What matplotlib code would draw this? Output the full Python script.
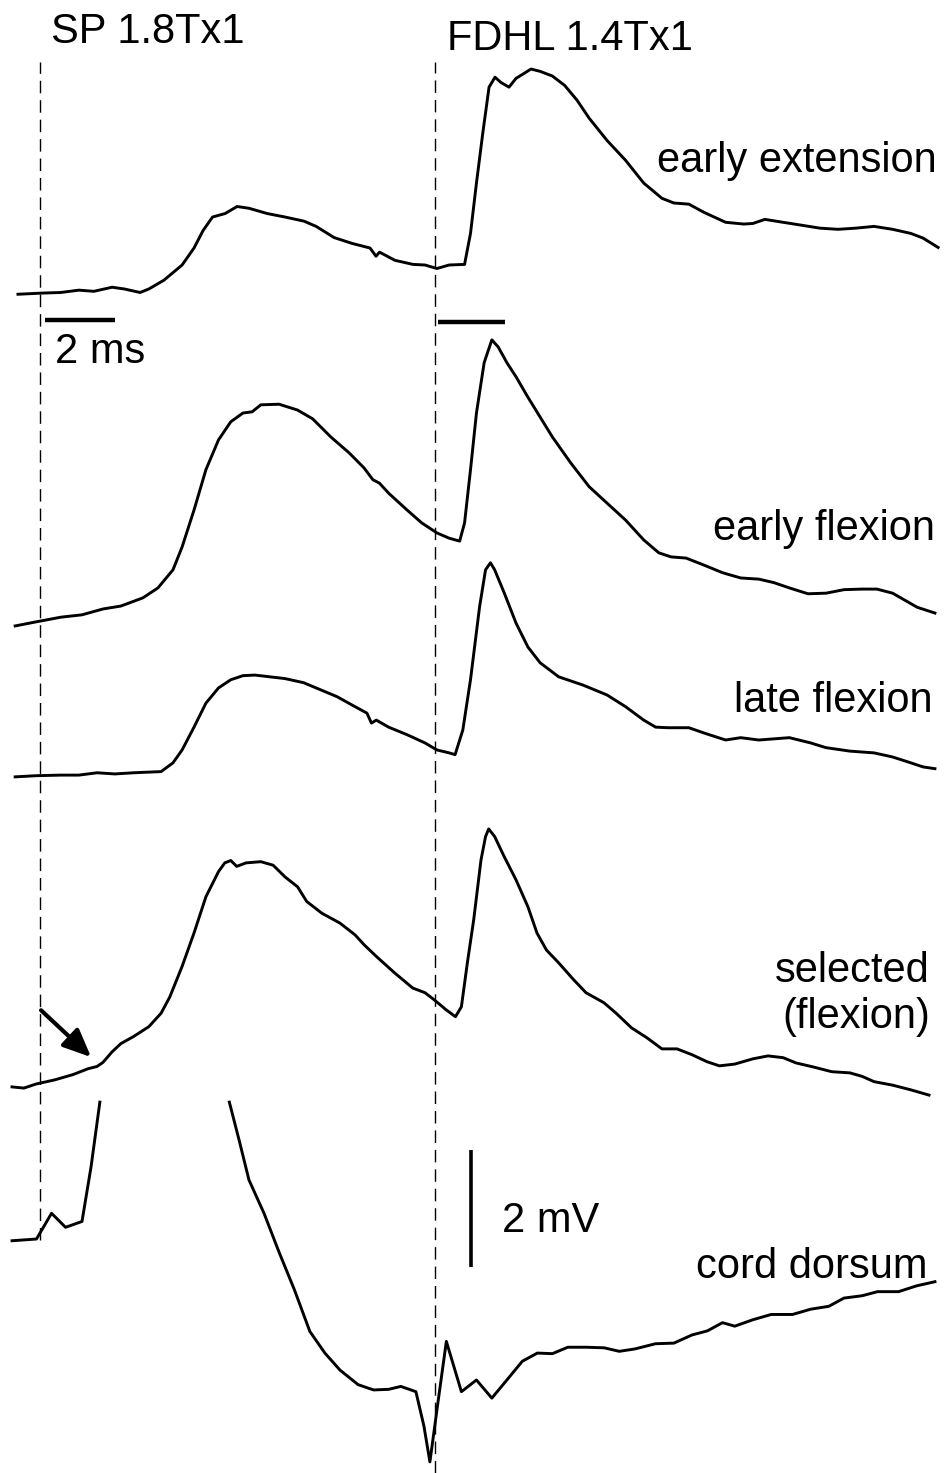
import matplotlib
matplotlib.use("Agg")
import matplotlib.pyplot as plt
import numpy as np

# ---- recordings: time after SP stimulus (ms), potential relative to trace start (mV) ----
t_ext = [-0.63, 0.07, 0.59, 1.11, 1.54, 2.06, 2.41, 2.86, 3.11, 3.54, 4.06, 4.40, 4.66, 4.93,
         5.29, 5.63, 5.97, 6.49, 7.00, 7.54, 7.89, 8.40, 8.91, 9.43, 9.60, 9.70, 10.14, 10.66,
         11.00, 11.34, 11.69, 12.13, 12.30, 12.47, 12.65, 12.83, 13.00, 13.17, 13.40, 13.60,
         14.03, 14.29, 14.64, 14.99, 15.34, 15.69, 16.20, 16.73, 17.25, 17.77, 18.11, 18.54,
         18.97, 19.59, 20.11, 20.37, 20.71, 21.23, 21.76, 22.28, 22.80, 23.31, 23.83, 24.36,
         24.88, 25.23, 25.66]
v_ext = [0.00, 0.02, 0.03, 0.07, 0.05, 0.12, 0.09, 0.03, 0.09, 0.24, 0.50, 0.79, 1.09, 1.32,
         1.38, 1.50, 1.47, 1.38, 1.32, 1.25, 1.16, 0.97, 0.87, 0.79, 0.65, 0.72, 0.58, 0.51,
         0.50, 0.44, 0.50, 0.51, 1.04, 1.90, 2.75, 3.54, 3.71, 3.62, 3.54, 3.69,
         3.85, 3.81, 3.73, 3.57, 3.32, 3.01, 2.63, 2.29, 1.90, 1.64, 1.56, 1.54,
         1.40, 1.23, 1.20, 1.21, 1.28, 1.23, 1.18, 1.13, 1.11, 1.13, 1.16, 1.11,
         1.04, 0.96, 0.80]

t_eflex = [-0.71, -0.11, 0.60, 1.20, 1.80, 2.31, 2.94, 3.37, 3.80, 4.06, 4.40, 4.74, 5.10, 5.45,
           5.80, 6.06, 6.31, 6.83, 7.36, 7.79, 8.31, 8.83, 9.26, 9.51, 9.70, 9.96, 10.49, 10.91,
           11.34, 11.69, 11.99, 12.13, 12.30, 12.47, 12.69, 12.91, 13.09, 13.34, 13.60, 13.94,
           14.29, 14.64, 15.16, 15.69, 16.20, 16.73, 17.25, 17.68, 18.03, 18.46, 18.97, 19.50,
           20.02, 20.54, 20.97, 21.41, 21.94, 22.46, 22.97, 23.49, 23.91, 24.36, 24.71, 25.06,
           25.57]
v_eflex = [0.00, 0.07, 0.15, 0.19, 0.29, 0.34, 0.48, 0.65, 0.96, 1.35, 1.98, 2.67, 3.18, 3.49,
           3.64, 3.66, 3.78, 3.79, 3.69, 3.54, 3.23, 2.96, 2.70, 2.50, 2.44, 2.27, 1.98, 1.76,
           1.59, 1.50, 1.45, 1.76, 2.67, 3.64, 4.50, 4.89, 4.77, 4.50, 4.26, 3.91,
           3.57, 3.23, 2.79, 2.38, 2.10, 1.81, 1.47, 1.25, 1.18, 1.16, 1.04, 0.91,
           0.82, 0.80, 0.74, 0.65, 0.55, 0.56, 0.62, 0.63, 0.63, 0.56, 0.44, 0.32,
           0.22]

t_lflex = [-0.71, -0.11, 0.60, 1.11, 1.63, 2.14, 2.67, 3.46, 3.80, 4.06, 4.40, 4.74, 5.10, 5.45,
           5.80, 6.14, 6.57, 7.00, 7.53, 7.97, 8.49, 8.91, 9.34, 9.47, 9.61, 9.96, 10.49, 11.00,
           11.34, 11.69, 11.86, 12.08, 12.30, 12.56, 12.73, 12.87, 12.99, 13.26, 13.60, 13.94,
           14.29, 14.82, 15.51, 16.20, 16.73, 17.25, 17.59, 17.94, 18.54, 18.97, 19.59, 20.02,
           20.54, 21.41, 22.02, 22.45, 23.14, 23.83, 24.36, 24.88, 25.23, 25.57]
v_lflex = [0.00, 0.02, 0.03, 0.03, 0.07, 0.05, 0.07, 0.09, 0.24, 0.46, 0.85, 1.26, 1.52, 1.66,
           1.73, 1.74, 1.71, 1.68, 1.61, 1.50, 1.37, 1.23, 1.09, 0.92, 0.97, 0.85, 0.72, 0.58,
           0.46, 0.41, 0.38, 0.80, 1.66, 2.91, 3.54, 3.66, 3.54, 3.15, 2.63, 2.22,
           1.95, 1.71, 1.57, 1.40, 1.20, 0.97, 0.85, 0.84, 0.84, 0.75, 0.63, 0.67,
           0.63, 0.67, 0.58, 0.50, 0.44, 0.41, 0.34, 0.24, 0.17, 0.14]

t_sel = [-0.80, -0.46, -0.11, 0.42, 0.94, 1.37, 1.63, 1.80, 2.06, 2.31, 2.67, 3.11, 3.46, 3.71,
         4.06, 4.40, 4.74, 5.10, 5.28, 5.45, 5.62, 5.89, 6.31, 6.66, 7.00, 7.36, 7.62, 8.05,
         8.57, 9.00, 9.26, 9.61, 10.13, 10.65, 11.00, 11.26, 11.60, 11.87, 12.04, 12.21,
         12.39, 12.60, 12.73, 12.82, 12.99, 13.26, 13.60, 13.94, 14.20, 14.47, 14.82, 15.25,
         15.60, 16.11, 16.46, 16.90, 17.34, 17.77, 18.20, 18.63, 19.06, 19.41, 19.85, 20.37,
         20.80, 21.23, 21.60, 22.10, 22.62, 23.14, 23.49, 23.83, 24.36, 24.88, 25.40]
v_sel = [0.00, -0.02, 0.05, 0.12, 0.21, 0.31, 0.35, 0.42, 0.60, 0.74, 0.86, 1.03, 1.26, 1.54,
         2.06, 2.63, 3.25, 3.68, 3.83, 3.87, 3.77, 3.83, 3.85, 3.79, 3.59, 3.42, 3.17, 2.97,
         2.80, 2.60, 2.43, 2.23, 1.95, 1.69, 1.61, 1.49, 1.32, 1.20, 1.37, 2.12,
         2.85, 3.88, 4.28, 4.41, 4.28, 3.94, 3.54, 3.08, 2.63, 2.34, 2.12, 1.83,
         1.61, 1.44, 1.26, 1.01, 0.84, 0.65, 0.65, 0.55, 0.43, 0.36, 0.39, 0.48,
         0.53, 0.50, 0.41, 0.34, 0.26, 0.24, 0.18, 0.09, 0.03, -0.05, -0.14]

# cord dorsum goes off scale between the two parts (nan = gap)
t_cord = [-0.80, -0.10, 0.33, 0.73, 1.20, 1.46, 1.71, np.nan,
          5.41, 5.71, 5.97, 6.40, 6.84, 7.27, 7.71, 8.14, 8.57, 9.09, 9.53, 9.96, 10.31,
          10.74, 10.97, 11.14, 11.38, 11.61, 12.04, 12.47, 12.91, 13.34, 13.78, 14.21, 14.64,
          15.08, 15.60, 16.12, 16.55, 16.99, 17.59, 18.11, 18.63, 19.07, 19.50, 19.85, 20.37,
          20.89, 21.50, 22.02, 22.54, 22.97, 23.49, 23.93, 24.53, 25.05, 25.57]
v_cord = [0.00, 0.03, 0.47, 0.23, 0.33, 1.27, 2.37, np.nan,
          2.37, 1.67, 1.04, 0.47, -0.21, -0.84, -1.55, -1.92, -2.21, -2.46, -2.55, -2.54, -2.49,
          -2.58, -3.17, -3.78, -2.72, -1.72, -2.58, -2.38, -2.69, -2.38, -2.06, -1.92, -1.93,
          -1.82, -1.82, -1.83, -1.89, -1.85, -1.76, -1.75, -1.61, -1.54, -1.40, -1.46, -1.35,
          -1.26, -1.26, -1.17, -1.12, -0.98, -0.94, -0.87, -0.87, -0.77, -0.70]

# stimulus times (ms)
sp_stim = 0.0
fdhl_stim = 11.29

# vertical position of each trace in the stack (mV)
offsets = {"ext": 20.15, "eflex": 14.48, "lflex": 11.90, "sel": 6.60, "cord": 3.97}

plt.rcParams['font.family'] = ['Liberation Sans', 'DejaVu Sans']

fig = plt.figure(figsize=(9.48, 14.73), dpi=100)
ax = fig.add_axes([0, 0, 1, 1])
ax.set_xlim(-1.143, 25.943)
ax.set_ylim(0, 25.18)
ax.axis("off")

lw = 2.1
ax.plot(t_ext, np.array(v_ext) + offsets["ext"], color="black", lw=lw)
ax.plot(t_eflex, np.array(v_eflex) + offsets["eflex"], color="black", lw=lw)
ax.plot(t_lflex, np.array(v_lflex) + offsets["lflex"], color="black", lw=lw)
ax.plot(t_sel, np.array(v_sel) + offsets["sel"], color="black", lw=lw)
ax.plot(t_cord, np.array(v_cord) + offsets["cord"], color="black", lw=lw)

# stimulus markers
ax.plot([sp_stim, sp_stim], [3.98, 24.12], color="black", lw=1.0, dashes=(9, 5))
ax.plot([fdhl_stim, fdhl_stim], [0, 24.12], color="black", lw=1.0, dashes=(9, 5))

# scale bars
ax.plot([0.14, 2.14], [19.71, 19.71], color="black", lw=3.2, solid_capstyle="butt")
ax.plot([11.37, 13.29], [19.68, 19.68], color="black", lw=3.2, solid_capstyle="butt")
ax.plot([12.31, 12.31], [3.52, 5.52], color="black", lw=2.6, solid_capstyle="butt")

fs = 30
ax.text(0.31, 24.44, "SP 1.8Tx1", fontsize=fs, va="baseline", ha="left")
ax.text(11.63, 24.32, "FDHL 1.4Tx1", fontsize=fs, va="baseline", ha="left")
ax.text(0.43, 18.97, "2 ms", fontsize=fs, va="baseline", ha="left")
ax.text(13.2, 4.12, "2 mV", fontsize=fs, va="baseline", ha="left")
ax.text(25.63, 22.24, "early extension", fontsize=fs, va="baseline", ha="right")
ax.text(25.57, 15.95, "early flexion", fontsize=fs, va="baseline", ha="right")
ax.text(25.51, 13.01, "late flexion", fontsize=fs, va="baseline", ha="right")
ax.text(25.43, 8.39, "selected", fontsize=fs, va="baseline", ha="right")
ax.text(25.43, 7.61, "(flexion)", fontsize=fs, va="baseline", ha="right")
ax.text(25.37, 3.33, "cord dorsum", fontsize=fs, va="baseline", ha="right")

# onset arrow on the selected trace
ax.annotate("", xy=(1.46, 7.11), xytext=(0.03, 7.91),
            arrowprops=dict(arrowstyle="-|>,head_length=1.7,head_width=0.75",
                            color="black", lw=3.0, shrinkA=0, shrinkB=0))

fig.savefig("out.png", dpi=100, facecolor="white")
